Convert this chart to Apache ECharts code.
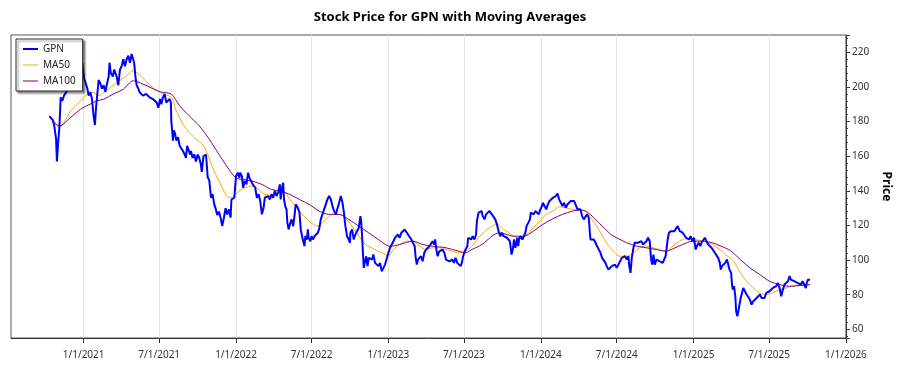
<!DOCTYPE html>
<html>
<head>
<meta charset="utf-8">
<script src="https://cdn.jsdelivr.net/npm/echarts@6/dist/echarts.min.js"></script>
<style>
html,body{margin:0;padding:0;background:#fff;}
#chart{width:900px;height:375px;}
</style>
</head>
<body>
<div id="chart"></div>
<script>
const titleText = 'Stock Price for GPN with Moving Averages';
const seriesNames = ['GPN', 'MA50', 'MA100'];
const xTickDates = ['2021-01-01','2021-07-01','2022-01-01','2022-07-01','2023-01-01','2023-07-01','2024-01-01','2024-07-01','2025-01-01','2025-07-01','2026-01-01'];

const gpnDates = [
'2020-10-11','2020-10-19','2020-10-23','2020-10-27','2020-10-29','2020-11-01','2020-11-04','2020-11-07','2020-11-11','2020-11-15','2020-11-23','2020-11-27',
'2020-12-01','2020-12-09','2020-12-13','2020-12-21','2020-12-25','2020-12-29','2021-01-02','2021-01-05','2021-01-10','2021-01-13','2021-01-17','2021-01-21',
'2021-01-25','2021-01-28','2021-01-31','2021-02-06','2021-02-10','2021-02-14','2021-02-18','2021-02-22','2021-02-26','2021-03-02','2021-03-04','2021-03-07',
'2021-03-12','2021-03-15','2021-03-21','2021-03-25','2021-03-29','2021-04-02','2021-04-06','2021-04-10','2021-04-14','2021-04-18','2021-04-22','2021-04-26',
'2021-04-30','2021-05-02','2021-05-05','2021-05-08','2021-05-12','2021-05-15','2021-05-23','2021-05-31','2021-06-08','2021-06-16','2021-06-25','2021-06-29',
'2021-07-03','2021-07-06','2021-07-10','2021-07-14','2021-07-18','2021-07-22','2021-07-26','2021-07-29','2021-07-30','2021-08-01','2021-08-03','2021-08-05',
'2021-08-08','2021-08-11','2021-08-15','2021-08-19','2021-08-23','2021-08-27','2021-08-31','2021-09-03','2021-09-06','2021-09-10','2021-09-13','2021-09-15',
'2021-09-19','2021-09-23','2021-09-27','2021-10-01','2021-10-05','2021-10-09','2021-10-11','2021-10-15','2021-10-18','2021-10-21','2021-10-23','2021-10-25',
'2021-10-29','2021-11-02','2021-11-06','2021-11-10','2021-11-13','2021-11-17','2021-11-21','2021-11-25','2021-11-29','2021-12-03','2021-12-07','2021-12-11',
'2021-12-15','2021-12-19','2021-12-21','2021-12-25','2021-12-28','2022-01-01','2022-01-05','2022-01-09','2022-01-11','2022-01-15','2022-01-18','2022-01-22',
'2022-01-26','2022-01-30','2022-02-02','2022-02-06','2022-02-08','2022-02-10','2022-02-16','2022-02-20','2022-02-24','2022-02-28','2022-03-04','2022-03-08',
'2022-03-11','2022-03-15','2022-03-19','2022-03-23','2022-03-27','2022-03-31','2022-04-04','2022-04-08','2022-04-12','2022-04-16','2022-04-18','2022-04-22',
'2022-04-24','2022-04-26','2022-04-29','2022-05-02','2022-05-04','2022-05-07','2022-05-10','2022-05-14','2022-05-18','2022-05-21','2022-05-24','2022-05-25',
'2022-05-29','2022-06-02','2022-06-05','2022-06-09','2022-06-12','2022-06-14','2022-06-16','2022-06-20','2022-06-22','2022-06-24','2022-06-28','2022-07-01',
'2022-07-04','2022-07-08','2022-07-12','2022-07-16','2022-07-19','2022-07-23','2022-07-27','2022-07-31','2022-08-04','2022-08-08','2022-08-12','2022-08-16',
'2022-08-20','2022-08-24','2022-08-28','2022-09-01','2022-09-05','2022-09-09','2022-09-13','2022-09-16','2022-09-20','2022-09-24','2022-09-28','2022-10-01',
'2022-10-02','2022-10-06','2022-10-10','2022-10-14','2022-10-18','2022-10-22','2022-10-26','2022-10-28','2022-10-30','2022-11-01','2022-11-03','2022-11-07',
'2022-11-09','2022-11-12','2022-11-15','2022-11-19','2022-11-23','2022-11-26','2022-11-30','2022-12-04','2022-12-08','2022-12-12','2022-12-16','2022-12-20',
'2022-12-24','2022-12-28','2023-01-01','2023-01-05','2023-01-09','2023-01-13','2023-01-17','2023-01-21','2023-01-24','2023-01-28','2023-02-01','2023-02-05',
'2023-02-09','2023-02-13','2023-02-17','2023-02-21','2023-02-25','2023-03-01','2023-03-05','2023-03-07','2023-03-10','2023-03-13','2023-03-17','2023-03-20',
'2023-03-24','2023-03-28','2023-04-01','2023-04-05','2023-04-09','2023-04-13','2023-04-17','2023-04-21','2023-04-23','2023-04-26','2023-04-29','2023-05-03',
'2023-05-07','2023-05-11','2023-05-15','2023-05-19','2023-05-23','2023-05-27','2023-05-31','2023-06-03','2023-06-07','2023-06-11','2023-06-15','2023-06-19',
'2023-06-23','2023-06-26','2023-06-29','2023-07-03','2023-07-06','2023-07-09','2023-07-11','2023-07-14','2023-07-18','2023-07-22','2023-07-26','2023-07-30',
'2023-08-01','2023-08-05','2023-08-09','2023-08-12','2023-08-15','2023-08-19','2023-08-23','2023-08-27','2023-08-31','2023-09-03','2023-09-06','2023-09-10',
'2023-09-14','2023-09-18','2023-09-22','2023-09-26','2023-09-30','2023-10-04','2023-10-08','2023-10-12','2023-10-16','2023-10-19','2023-10-23','2023-10-26',
'2023-10-29','2023-11-01','2023-11-03','2023-11-06','2023-11-08','2023-11-10','2023-11-13','2023-11-18','2023-11-22','2023-11-25','2023-11-28','2023-12-02',
'2023-12-06','2023-12-08','2023-12-12','2023-12-15','2023-12-19','2023-12-23','2023-12-27','2023-12-31','2024-01-04','2024-01-06','2024-01-10','2024-01-14',
'2024-01-18','2024-01-22','2024-01-26','2024-01-30','2024-02-03','2024-02-06','2024-02-10','2024-02-14','2024-02-18','2024-02-22','2024-02-26','2024-03-01',
'2024-03-05','2024-03-09','2024-03-13','2024-03-17','2024-03-21','2024-03-25','2024-03-29','2024-04-02','2024-04-05','2024-04-09','2024-04-13','2024-04-17',
'2024-04-21','2024-04-25','2024-04-27','2024-04-29','2024-05-03','2024-05-07','2024-05-11','2024-05-15','2024-05-19','2024-05-23','2024-05-27','2024-05-31',
'2024-06-04','2024-06-07','2024-06-11','2024-06-15','2024-06-19','2024-06-23','2024-06-27','2024-07-01','2024-07-05','2024-07-09','2024-07-13','2024-07-17',
'2024-07-21','2024-07-25','2024-07-29','2024-07-31','2024-08-03','2024-08-06','2024-08-08','2024-08-10','2024-08-13','2024-08-17','2024-08-21','2024-08-25',
'2024-08-29','2024-09-02','2024-09-06','2024-09-10','2024-09-14','2024-09-18','2024-09-20','2024-09-22','2024-09-24','2024-09-27','2024-09-30','2024-10-04',
'2024-10-08','2024-10-11','2024-10-15','2024-10-19','2024-10-23','2024-10-26','2024-10-29','2024-10-31','2024-11-03','2024-11-06','2024-11-08','2024-11-12',
'2024-11-16','2024-11-20','2024-11-24','2024-11-26','2024-11-29','2024-12-02','2024-12-06','2024-12-10','2024-12-14','2024-12-18','2024-12-21','2024-12-25',
'2024-12-29','2025-01-02','2025-01-06','2025-01-09','2025-01-13','2025-01-17','2025-01-20','2025-01-24','2025-01-28','2025-02-01','2025-02-05','2025-02-09',
'2025-02-13','2025-02-17','2025-02-21','2025-02-25','2025-03-01','2025-03-05','2025-03-07','2025-03-10','2025-03-14','2025-03-18','2025-03-22','2025-03-26',
'2025-03-28','2025-04-01','2025-04-03','2025-04-05','2025-04-08','2025-04-11','2025-04-13','2025-04-16','2025-04-19','2025-04-21','2025-04-24','2025-04-27',
'2025-04-30','2025-05-04','2025-05-08','2025-05-12','2025-05-16','2025-05-20','2025-05-24','2025-05-28','2025-06-01','2025-06-05','2025-06-09','2025-06-13',
'2025-06-16','2025-06-20','2025-06-24','2025-06-28','2025-07-02','2025-07-06','2025-07-10','2025-07-14','2025-07-18','2025-07-22','2025-07-26','2025-07-30',
'2025-08-03','2025-08-07','2025-08-11','2025-08-15','2025-08-19','2025-08-22','2025-08-26','2025-08-30','2025-09-03','2025-09-07','2025-09-11','2025-09-15',
'2025-09-19','2025-09-23','2025-09-27','2025-09-29','2025-10-02','2025-10-05','2025-10-07'
];
const gpnPrices = [
183,181,177,170,157,168,177,194,192,195,198,197,
201,199,203,206,210,214,205,204,199,195,197,193,
183,178,189,204,202,199,201,197,202,206,214,208,
206,210,206,201,210,212,216,212,216,218,214,219,
218,214,206,201,199,197,195,196,194,193,191,188,
193,190,194,196,191,192,193,191,180,175,169,175,
173,169,171,166,167,163,161,159,166,165,161,163,
159,161,157,161,159,155,151,160,160,161,155,148,
146,136,138,132,130,126,128,124.5,119.6,124.5,130,126.4,
129.3,124.5,135,135,136,148.6,150.5,147.6,150.5,148.6,141.8,145.7,
143.7,150.5,147.6,145.7,146.6,143.7,141.8,136,138,134.1,126.4,130.2,
136,135,137,135,138,136,140,137,139,143.7,135,142.8,
144.7,135,131,129.3,121.6,117.7,120.6,123.5,119.6,125.4,132.2,131.2,
130.2,127.4,117.7,112.9,110,108,113.8,111.9,117.7,112.9,110.9,113.8,
111.9,113.8,112.9,115.8,117.7,123.5,126.4,129.3,130.2,135.1,137,135.1,
131.2,128.3,126.4,125.4,133.1,137,133.1,128.3,119.6,113.8,111.9,110,
115.8,117.7,111.9,114.8,115.8,118.7,125.4,121.6,113.8,104.2,95.5,100.3,
102.2,96.5,101.3,102.2,100.3,103.2,98.4,97.4,96.5,98.4,93.5,95.5,
97.4,98.4,104.2,107.1,108,110.9,112.9,111.9,114.8,112.9,115.8,114.8,
117.7,118.7,114.8,113.8,111.9,112.9,108,102.2,97.4,100.3,99.3,102.2,
99.3,104.2,106,105.1,108,109,110.9,109,111.9,106,102.2,105.1,
104.2,106,104.2,100.3,101.3,99.3,99.3,100.3,98.4,101.3,98.4,99.3,
96.5,98.4,102.2,105.1,106,108,112.9,113.8,111.9,113.8,111.9,114.8,
122.6,127.4,126.4,128.3,125.4,123.5,126.4,125.4,128.3,129.3,126.4,125.4,
123.5,120.6,116.7,113.8,115.8,113.8,114.8,112.9,113.8,110.9,103.2,106.1,
111.9,107.1,109,112.9,108,111.9,113.8,111.9,112.9,115.8,119.6,121.5,
123.5,127.4,128.3,126.4,128.3,127.4,126.4,129.3,131.2,133.1,131.2,129.3,
132.2,134.1,135.1,136,137,137,138.5,135.1,133.1,131.2,133.1,130.2,
132.2,133.1,134.1,133.1,134.1,133.1,129.3,128.3,129.3,125.4,123.5,124.5,
126.4,124.5,117.7,111.9,110.9,111.9,110,109,106.1,104.2,101.3,100.3,
98.4,96.5,94.5,93.6,96.5,95.5,97.4,95.5,97.4,98.4,101.3,100.3,
102.2,100.3,102.2,96.5,92.6,101.3,104.2,107.1,110,110.9,110,110,
110.9,109,110,110.9,112.9,110.9,104.2,99.4,97.4,103.2,97.4,100.3,
101.3,99.4,100.3,98.4,99.4,102.2,103.2,111.9,115.8,114.8,116.7,115.8,
116.7,117.7,119.6,118.7,116.7,117.7,115.8,114.8,112.9,113.8,111.9,113.8,
110.9,112.9,106.1,108.1,110,108.1,110,110.9,112.9,110.9,109,110,
107.1,106.1,104.2,103.2,101.3,98.4,94.5,96.5,97.4,98.4,100.3,99.4,
94.5,92.6,85.9,83,84.9,79.1,70.4,67.5,71.4,74.3,78.1,81,
83.9,82,80.1,79.1,77.2,74.3,76.2,76.2,78.1,77.2,80.1,78.1,
77.2,78.1,81,80.1,82,82,83.9,83,84.9,86.8,83.9,79.1,
83,85.9,85.9,87.8,90.7,88.7,89.7,87.8,88.7,86.8,87.8,85.9,
87.8,86.8,83.9,86.8,88.7,87.8,88.7
];

const ma50Dates = [
'2020-10-11','2020-11-04','2020-12-01','2020-12-25','2021-01-10','2021-01-25','2021-02-06','2021-02-18','2021-03-06','2021-03-29','2021-04-14','2021-04-30',
'2021-05-23','2021-06-16','2021-07-10','2021-07-30','2021-08-11','2021-08-27','2021-09-11','2021-09-27','2021-10-13','2021-10-25','2021-11-06','2021-11-21',
'2021-12-03','2021-12-15','2021-12-27','2022-01-08','2022-01-23','2022-02-08','2022-02-24','2022-03-11','2022-03-27','2022-04-08','2022-04-24','2022-05-10',
'2022-06-02','2022-06-25','2022-07-16','2022-07-31','2022-08-20','2022-09-05','2022-09-20','2022-10-14','2022-11-07','2022-11-30','2022-12-16','2023-01-01',
'2023-01-13','2023-01-28','2023-02-13','2023-03-01','2023-03-17','2023-04-01','2023-04-17','2023-05-03','2023-05-19','2023-06-03','2023-06-19','2023-07-05',
'2023-07-20','2023-08-05','2023-08-21','2023-09-06','2023-09-18','2023-10-04','2023-10-12','2023-10-28','2023-11-13','2023-11-28','2023-12-14','2023-12-30',
'2024-01-14','2024-01-30','2024-02-14','2024-03-01','2024-03-17','2024-04-02','2024-04-17','2024-05-03','2024-05-19','2024-06-04','2024-06-19','2024-07-09',
'2024-07-25','2024-08-10','2024-08-25','2024-09-10','2024-09-26','2024-10-11','2024-10-27','2024-11-12','2024-11-28','2024-12-14','2024-12-29','2025-01-14',
'2025-01-30','2025-02-15','2025-03-03','2025-03-18','2025-04-07','2025-04-23','2025-05-08','2025-05-24','2025-06-09','2025-06-24','2025-07-10','2025-07-26',
'2025-08-11','2025-08-26','2025-09-11','2025-09-23','2025-10-07'
];
const ma50Values = [
183.3,176.6,186.2,192.0,195.9,196.8,195.0,197.0,199.7,203.6,206.5,209.4,
205.0,199.5,195.9,193.9,186.2,178.5,173.7,169.8,166.9,161.1,153.4,145.7,
139.9,136.0,137.0,139.9,141.8,142.8,140.8,138.0,137.5,138.9,139.9,135.0,
128.3,122.5,119.6,122.5,126.4,126.4,124.4,116.7,109.0,106.1,104.2,102.5,
106.1,109.0,110.9,110.9,108.0,106.1,107.1,107.1,106.1,105.1,104.2,105.1,
108.0,112.9,116.7,119.6,120.6,117.5,116.7,113.8,112.9,114.8,118.6,122.5,
126.4,128.3,130.8,130.2,129.3,128.9,128.3,123.5,117.7,110.9,106.1,102.2,
102.2,104.2,107.1,108.1,107.1,106.1,105.1,108.1,110.9,112.3,111.9,111.5,
110.9,109.0,106.5,103.2,99.4,92.6,87.8,83.9,81.0,80.1,81.0,83.0,
83.9,84.9,85.3,85.3,85.5
];

const ma100Dates = [
'2020-10-11','2020-11-04','2020-12-01','2020-12-25','2021-01-17','2021-02-02','2021-02-18','2021-03-13','2021-04-06','2021-04-30','2021-05-23','2021-06-16',
'2021-07-06','2021-07-30','2021-08-19','2021-09-11','2021-10-05','2021-10-29','2021-11-21','2021-12-15','2021-12-31','2022-01-15','2022-02-08','2022-03-04',
'2022-03-27','2022-04-16','2022-05-10','2022-06-02','2022-06-25','2022-07-19','2022-08-12','2022-09-05','2022-09-28','2022-10-22','2022-11-15','2022-12-08',
'2023-01-05','2023-01-28','2023-03-01','2023-03-24','2023-04-17','2023-05-19','2023-06-19','2023-07-05','2023-07-20','2023-08-13','2023-09-06','2023-09-22',
'2023-10-04','2023-10-28','2023-11-21','2023-12-14','2024-01-06','2024-01-30','2024-02-22','2024-03-17','2024-04-02','2024-04-17','2024-05-03','2024-05-27',
'2024-06-19','2024-07-01','2024-07-25','2024-08-17','2024-09-10','2024-10-04','2024-10-27','2024-11-12','2024-12-06','2024-12-29','2025-01-22','2025-02-15',
'2025-03-08','2025-03-30','2025-04-23','2025-05-16','2025-06-09','2025-07-02','2025-07-26','2025-08-19','2025-09-11','2025-10-07'
];
const ma100Values = [
183.3,177.5,182.4,187.2,190.1,192.0,192.9,195.9,198.7,203.6,201.6,199.0,
197.0,195.9,189.1,183.3,177.5,169.8,161.1,152.4,147.6,146.6,145.7,143.7,
140.8,139.9,137.9,135.0,132.2,128.3,126.4,126.4,123.5,119.6,115.7,111.9,
108.0,109.0,110.9,109.0,108.0,107.1,105.1,104.2,106.1,109.0,113.8,115.7,
115.3,113.8,113.8,116.7,120.6,123.9,126.4,128.3,128.9,128.3,125.4,119.6,
114.5,112.9,110.0,108.1,107.1,106.1,105.1,106.5,109.0,110.9,110.9,110.0,
108.0,105.5,100.3,95.5,91.6,87.8,85.9,84.9,85.3,85.9
];

function parseLocal(s) { const p = s.split('-'); return new Date(+p[0], +p[1] - 1, +p[2]).getTime(); }
function zip(d, v) { return d.map((x, i) => [parseLocal(x), v[i]]); }
const xTickValues = xTickDates.map(parseLocal);

const chart = echarts.init(document.getElementById('chart'), null, { renderer: 'canvas' });
const FONT = 'Noto Sans';
const thickIcon = 'path://M0,0L16,0L16,2.2L0,2.2Z';
const thinIcon = 'path://M0,0L16,0L16,1.1L0,1.1Z';
chart.setOption({
  animation: false,
  backgroundColor: '#ffffff',
  title: {
    text: titleText, left: 'center', top: 6,
    textStyle: { fontFamily: FONT, fontSize: 13, fontWeight: 'bold', color: '#000' }
  },
  legend: {
    data: [
      { name: seriesNames[0], icon: thickIcon },
      { name: seriesNames[1], icon: thinIcon },
      { name: seriesNames[2], icon: thinIcon }
    ],
    orient: 'vertical', left: 16, top: 39,
    itemWidth: 15, itemHeight: 10, itemGap: 6,
    padding: [5, 7, 5, 7],
    symbolKeepAspect: true,
    itemStyle: { borderWidth: 0 },
    backgroundColor: '#fff', borderColor: '#333', borderWidth: 1,
    shadowColor: 'rgba(0,0,0,0.45)', shadowOffsetX: 2, shadowOffsetY: 2, shadowBlur: 2,
    textStyle: { fontFamily: FONT, fontSize: 10, color: '#222' }
  },
  grid: { left: 11, right: 42, top: 35, bottom: 37, show: true, borderColor: '#555', borderWidth: 1, backgroundColor: 'transparent' },
  xAxis: {
    type: 'value',
    min: parseLocal('2020-07-11'), max: parseLocal('2026-01-01'),
    axisLine: { lineStyle: { color: '#333' } },
    axisTick: { show: true, length: 5, lineStyle: { color: '#333' }, customValues: xTickValues },
    axisLabel: {
      customValues: xTickValues, margin: 12, fontFamily: FONT, fontSize: 10, color: '#333',
      formatter: function (v) { const d = new Date(v); return (d.getMonth() + 1) + '/' + d.getDate() + '/' + d.getFullYear(); }
    },
    splitLine: { show: true, lineStyle: { color: '#e4e4e4', width: 1 } }
  },
  yAxis: {
    type: 'value', position: 'right', min: 55, max: 230, splitNumber: 9,
    name: 'Price', nameLocation: 'middle', nameGap: 24, nameRotate: -90,
    nameTextStyle: { fontFamily: FONT, fontSize: 12, fontWeight: 'bold', color: '#000' },
    axisLine: { show: true, lineStyle: { color: '#333' } },
    axisTick: { show: true, length: 4, lineStyle: { color: '#333' } },
    minorTick: { show: true, splitNumber: 5, length: 2, lineStyle: { color: '#333' } },
    axisLabel: { showMinLabel: false, showMaxLabel: false, margin: 6, fontFamily: FONT, fontSize: 10, color: '#333' },
    splitLine: { show: false }
  },
  series: [
    { name: 'GPN', type: 'line', data: zip(gpnDates, gpnPrices), symbol: 'none', lineStyle: { color: '#0000ff', width: 2 }, itemStyle: { color: '#0000ff' }, z: 3 },
    { name: 'MA50', type: 'line', data: zip(ma50Dates, ma50Values), symbol: 'none', smooth: 0.3, lineStyle: { color: '#FFA500', width: 1 }, itemStyle: { color: '#FFA500' }, z: 2 },
    { name: 'MA100', type: 'line', data: zip(ma100Dates, ma100Values), symbol: 'none', smooth: 0.3, lineStyle: { color: '#800080', width: 1 }, itemStyle: { color: '#800080' }, z: 2 }
  ]
});
</script>
</body>
</html>
